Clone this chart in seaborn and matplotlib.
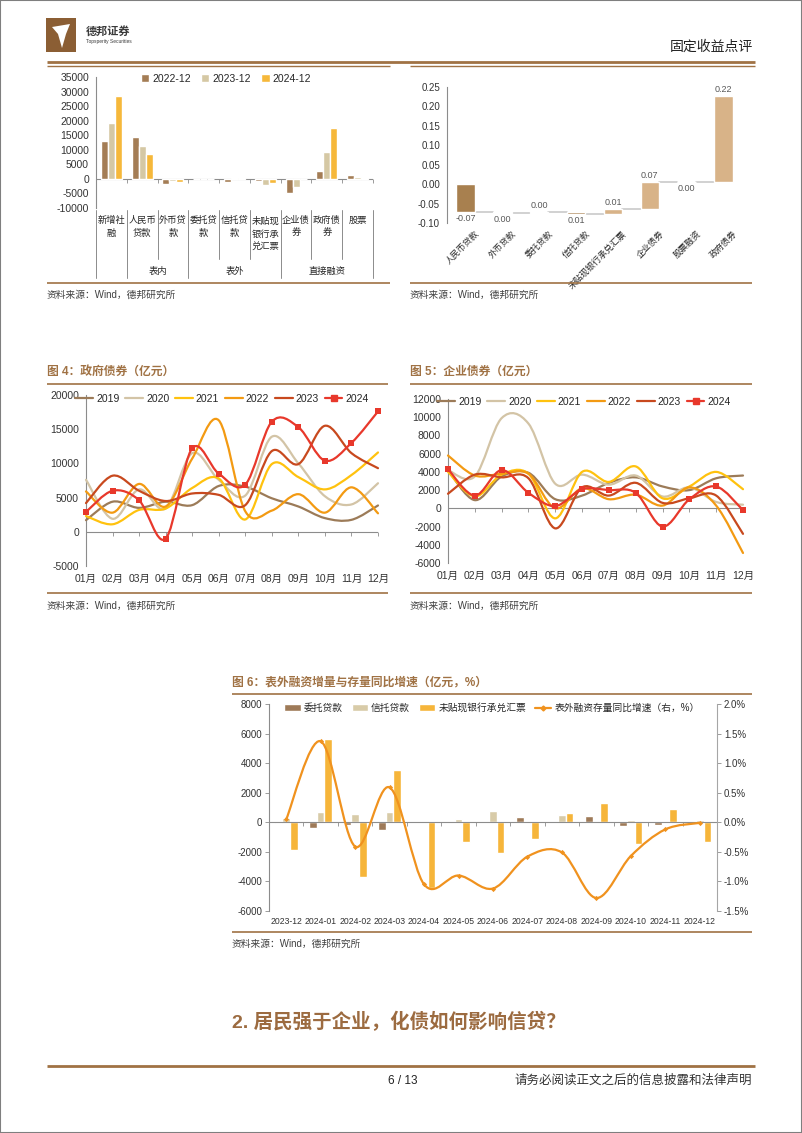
import numpy as np
import pandas as pd
import matplotlib.pyplot as plt
import seaborn as sns
from matplotlib.path import Path
from matplotlib.patches import PathPatch, Rectangle, Polygon
from matplotlib.lines import Line2D
import matplotlib.transforms as mtransforms

# ---------------- data ----------------
cats1 = ["新增社融", "人民币贷款", "外币贷款", "委托贷款", "信托贷款",
         "未贴现银行承兑汇票", "企业债券", "政府债券", "股票"]
cat1_labels = ["新增社\n融", "人民币\n贷款", "外币贷\n款", "委托贷\n款", "信托贷\n款",
               "未贴现\n银行承\n兑汇票", "企业债\n券", "政府债\n券", "股票"]
periods1 = ["2022-12", "2023-12", "2024-12"]
flow_2022 = [13100, 14500, -1700, -200, -900, -700, -4900, 2800, 1500]
flow_2023 = [19300, 11200, -700, -100, 200, -2000, -2900, 9300, 500]
flow_2024 = [28500, 8500, -900, 0, 300, -1500, -200, 17600, 450]

cats2 = ["人民币贷款", "外币贷款", "委托贷款", "信托贷款", "未贴现银行承兑汇票",
         "企业债券", "股票融资", "政府债券"]
contrib = [-0.071, -0.002, 0.001, -0.005, 0.014, 0.069, -0.001, 0.221]

months = ["01月", "02月", "03月", "04月", "05月", "06月",
          "07月", "08月", "09月", "10月", "11月", "12月"]
years = ["2019", "2020", "2021", "2022", "2023", "2024"]

gov_2019 = [1700, 4400, 3500, 4400, 3900, 6700, 6600, 4900, 3700, 2000, 1750, 3850]
gov_2020 = [7600, 1900, 6200, 3400, 11500, 7600, 5300, 13900, 10000, 5200, 4000, 7100]
gov_2021 = [2300, 1100, 3200, 3400, 6400, 7800, 1800, 9900, 8000, 6200, 8300, 11600]
gov_2022 = [5900, 2800, 7000, 3700, 10700, 16300, 3000, 3100, 5500, 2800, 6500, 2700]
gov_2023 = [4200, 8200, 6000, 4500, 5600, 5400, 3900, 11800, 9900, 15500, 11500, 9300]
gov_2024 = [2900, 6000, 4600, -1000, 12200, 8500, 6900, 16100, 15300, 10400, 13000, 17600]

corp_2019 = [4200, 900, 3500, 3900, 1000, 1400, 2800, 3400, 2400, 2000, 3300, 3600]
corp_2020 = [4200, 3500, 9900, 9300, 2700, 3700, 2600, 3600, 1300, 2300, 700, 400]
corp_2021 = [4000, 1300, 3700, 3800, -1100, 4000, 2900, 4600, 1100, 2400, 4000, 2100]
corp_2022 = [5800, 3600, 3800, 3800, 0, 2200, 1000, 1500, 300, 2300, 300, -4900]
corp_2023 = [1600, 3700, 3400, 3300, -2200, 2300, 1400, 2800, 600, 1100, 1400, -2800]
corp_2024 = [4300, 1400, 4200, 1700, 250, 2100, 2000, 1700, -2000, 1000, 2400, -200]

months6 = ["2023-12", "2024-01", "2024-02", "2024-03", "2024-04", "2024-05", "2024-06",
           "2024-07", "2024-08", "2024-09", "2024-10", "2024-11", "2024-12"]
series6 = ["委托贷款", "信托贷款", "未贴现银行承兑汇票"]
entrusted6 = [-50, -400, -200, -500, 50, 0, 30, 350, 30, 400, -250, -200, -30]
trust6 = [300, 700, 560, 680, 100, 230, 780, 0, 470, 0, 150, 0, 130]
undisc6 = [-1900, 5600, -3700, 3550, -4450, -1350, -2100, -1150, 650, 1300, -1450, 900, -1350]
growth6 = [0.05, 1.37, -0.41, 0.59, -1.05, -0.90, -1.12, -0.58, -0.51, -1.28, -0.57, -0.12, -0.01]

# ---------------- style ----------------
sns.set_style("white")
plt.rcParams["font.family"] = ["Liberation Sans", "Noto Sans CJK SC"]
plt.rcParams["axes.unicode_minus"] = False

BROWN = "#A07244"
AXIS = "#8C8C8C"
TXT = "#333333"
year_colors = ["#9C7B58", "#D3C4A6", "#FFC20E", "#F39A12", "#C8491E", "#E8382B"]

W, H = 802, 1133
fig = plt.figure(figsize=(W / 100, H / 100), dpi=100)


def rect(x0, y0, x1, y1):
    return [x0 / W, 1 - y1 / H, (x1 - x0) / W, (y1 - y0) / H]


def fy(y):
    return 1 - y / H


def ftext(x, y, s, **kw):
    fig.text(x / W, fy(y), s, **kw)


def hline(y, x0, x1, lw=1.0, color=BROWN):
    fig.add_artist(Line2D([x0 / W, x1 / W], [fy(y), fy(y)], transform=fig.transFigure,
                          lw=lw, color=color, solid_capstyle="butt"))


def smooth(ax, x, y, color, lw=1.5):
    # excel style smoothed line: cubic bezier through the data points
    pts = np.column_stack([x, y]).astype(float)
    n = len(pts)
    verts, codes = [pts[0]], [Path.MOVETO]
    for i in range(n - 1):
        p0 = pts[i - 1] if i > 0 else pts[i]
        p3 = pts[i + 2] if i + 2 < n else pts[i + 1]
        verts += [pts[i] + (pts[i + 1] - p0) / 6, pts[i + 1] - (p3 - pts[i]) / 6, pts[i + 1]]
        codes += [Path.CURVE4] * 3
    ax.add_patch(PathPatch(Path(verts, codes), fill=False, ec=color, lw=lw,
                           capstyle="round", joinstyle="round", clip_on=False, zorder=3))


def style_left(ax, size=7.5):
    sns.despine(ax=ax, top=True, right=True, bottom=True)
    ax.spines["left"].set_color(AXIS)
    ax.spines["left"].set_linewidth(0.8)
    ax.tick_params(axis="y", length=3, width=0.6, color=AXIS, labelsize=size,
                   labelcolor=TXT, pad=2)


# ---------------- page frame / header ----------------
fig.add_artist(Rectangle((0, 0), 1, 1, transform=fig.transFigure, fill=False,
                         ec="#7F7F7F", lw=1.5))
fig.add_artist(Rectangle((46 / W, fy(52)), 30 / W, 34 / H, transform=fig.transFigure,
                         fc="#8B5E34", ec="none"))
fig.add_artist(Polygon([(52 / W, fy(27)), (70 / W, fy(24)), (66 / W, fy(34)),
                        (62 / W, fy(48)), (58 / W, fy(34))], closed=True,
                       transform=fig.transFigure, fc="white", ec="none"))
ftext(86, 31, "德邦证券", fontsize=8, fontweight="bold", color="#3A3A3A", va="center")
ftext(86, 42, "Topsperity Securities", fontsize=3.5, color="#3A3A3A", va="center")
ftext(753, 47, "固定收益点评", fontsize=10, color="#222222", ha="right", va="center")
hline(62, 47, 755, lw=2.0)
hline(65.5, 47, 390, lw=1.0)
hline(65.5, 410, 755, lw=1.0)

# ---------------- chart 1: grouped bars ----------------
ax1 = fig.add_axes(rect(96, 77, 373, 208))
df1 = pd.concat([pd.DataFrame({"cat": cats1, "period": p, "value": v})
                 for p, v in zip(periods1, [flow_2022, flow_2023, flow_2024])])
sns.barplot(data=df1, x="cat", y="value", hue="period", order=cats1, hue_order=periods1,
            palette=["#A47D55", "#D5C8A4", "#F6B83A"], width=0.68, gap=0,
            saturation=1, errorbar=None, ax=ax1)
ax1.set_xlim(-0.5, 8.5)
ax1.set_ylim(-10000, 35000)
ax1.set_yticks(np.arange(-10000, 35001, 5000))
ax1.set_xticks([])
ax1.set_xlabel("")
ax1.set_ylabel("")
style_left(ax1, 7.5)
ax1.axhline(0, color=AXIS, lw=0.8, zorder=0)
ax1.plot(np.arange(-0.5, 9), np.zeros(10), ls="none", marker=3, ms=3, mew=0.6,
         color=AXIS, clip_on=False)
h, l = ax1.get_legend_handles_labels()
ax1.legend(h, l, loc="center", bbox_to_anchor=(226 / W, fy(79)),
           bbox_transform=fig.transFigure, ncol=3, frameon=False, fontsize=7.5,
           handlelength=0.8, handleheight=0.8, handletextpad=0.3, columnspacing=1.0,
           borderpad=0)
bt1 = mtransforms.blended_transform_factory(ax1.transData, fig.transFigure)
for i, lab in enumerate(cat1_labels):
    ax1.text(i, fy(216), lab, transform=bt1, ha="center", va="top", fontsize=6.7,
             linespacing=1.6, color="#262626")
for b in np.arange(-0.5, 9):
    long = b in (-0.5, 0.5, 2.5, 5.5, 8.5)
    ax1.plot([b, b], [fy(210), fy(278 if long else 259)], transform=bt1, color=AXIS,
             lw=0.7, clip_on=False)
for xc, g in zip([1.5, 4, 7], ["表内", "表外", "直接融资"]):
    ax1.text(xc, fy(271), g, transform=bt1, ha="center", va="center", fontsize=6.7,
             color="#262626")
hline(283, 47, 390, lw=1.2)
ftext(47, 295, "资料来源：Wind，德邦研究所", fontsize=7, color="#404040", va="center")

# ---------------- chart 2: waterfall ----------------
ax2 = fig.add_axes(rect(447, 87, 742, 223))
x2 = np.arange(len(cats2))
vals2 = np.array(contrib)
ends2 = np.cumsum(vals2)
starts2 = ends2 - vals2
bar_cols = ["#C9C9C9" if abs(v) < 0.003 else ("#A8804F" if v < 0 else "#D8B388") for v in vals2]
ax2.bar(x2, vals2, bottom=starts2, width=0.5, color=bar_cols, zorder=2)
for i in range(len(x2) - 1):
    ax2.plot([i + 0.25, i + 0.75], [ends2[i], ends2[i]], color="#C9C9C9", lw=1.2, zorder=1)
for i, v in enumerate(vals2):
    lab = f"{abs(v):.2f}" if round(v, 2) == 0 else f"{v:.2f}"
    if v >= 0:
        ax2.annotate(lab, (i, ends2[i]), xytext=(0, 1.5), textcoords="offset points",
                     ha="center", va="bottom", fontsize=6.5, color="#595959")
    else:
        ax2.annotate(lab, (i, ends2[i]), xytext=(0, -1.5), textcoords="offset points",
                     ha="center", va="top", fontsize=6.5, color="#595959")
ax2.set_xlim(-0.5, 7.5)
ax2.set_ylim(-0.10, 0.25)
ax2.set_yticks(np.round(np.arange(-0.10, 0.2501, 0.05), 2))
ax2.set_yticklabels([f"{t:.2f}" for t in np.arange(-0.10, 0.2501, 0.05)])
ax2.set_xticks([])
style_left(ax2, 7)
bt2 = mtransforms.blended_transform_factory(ax2.transData, fig.transFigure)
for i, c in enumerate(cats2):
    ax2.text(i + 0.25, fy(229), c, transform=bt2, rotation=45, rotation_mode="anchor",
             ha="right", va="top", fontsize=6.2, color="#262626")
hline(283, 410, 752, lw=1.2)
ftext(410, 295, "资料来源：Wind，德邦研究所", fontsize=7, color="#404040", va="center")


# ---------------- charts 4 and 5: smoothed monthly lines ----------------
def month_chart(box, ylim, step, data, title_xy, title, leg_x, leg_y, src_x0, src_x1):
    ax = fig.add_axes(rect(*box))
    xs = np.arange(12)
    for yr, vals, col in zip(years, data, year_colors):
        smooth(ax, xs, vals, col, lw=1.6)
    sns.scatterplot(x=xs, y=data[-1], marker="s", s=20, color=year_colors[-1],
                    linewidth=0, ax=ax, zorder=4, clip_on=False)
    ax.set_xlim(0, 11)
    ax.set_ylim(*ylim)
    ax.set_yticks(np.arange(ylim[0], ylim[1] + 1, step))
    style_left(ax, 7.5)
    ax.set_xticks(xs)
    ax.set_xticklabels(months)
    ax.tick_params(axis="x", length=0, pad=6, labelsize=7.5, labelcolor=TXT)
    ax.axhline(0, color=AXIS, lw=0.8, zorder=1)
    ax.plot(xs, np.zeros(12), ls="none", marker=3, ms=3, mew=0.6, color=AXIS, clip_on=False)
    handles = [Line2D([], [], color=c, lw=1.6) for c in year_colors[:-1]]
    handles.append(Line2D([], [], color=year_colors[-1], lw=1.6, marker="s", ms=4.3))
    ax.legend(handles, years, loc="center", bbox_to_anchor=(leg_x / W, fy(leg_y)),
              bbox_transform=fig.transFigure, ncol=6, frameon=False, fontsize=7.5,
              handlelength=1.7, handletextpad=0.3, columnspacing=0.55, borderpad=0)
    ftext(title_xy[0], title_xy[1], title, fontsize=8.5, fontweight="bold", color=BROWN,
          va="center")
    hline(384, src_x0, src_x1, lw=1.2)
    hline(593, src_x0, src_x1, lw=1.2)
    ftext(src_x0, 606, "资料来源：Wind，德邦研究所", fontsize=7, color="#404040", va="center")
    return ax


month_chart((86, 395, 378, 566), (-5000, 20000), 5000,
            [gov_2019, gov_2020, gov_2021, gov_2022, gov_2023, gov_2024],
            (47, 372), "图 4：政府债券（亿元）", 222, 399, 47, 388)
month_chart((448, 399, 743, 563), (-6000, 12000), 2000,
            [corp_2019, corp_2020, corp_2021, corp_2022, corp_2023, corp_2024],
            (410, 372), "图 5：企业债券（亿元）", 584, 402, 410, 752)

# ---------------- chart 6: off-balance financing ----------------
ftext(232, 683, "图 6：表外融资增量与存量同比增速（亿元，%）", fontsize=8.5,
      fontweight="bold", color=BROWN, va="center")
hline(694, 232, 752, lw=1.2)
ax6 = fig.add_axes(rect(269, 704, 717, 911))
df6 = pd.concat([pd.DataFrame({"month": months6, "series": s, "value": v})
                 for s, v in zip(series6, [entrusted6, trust6, undisc6])])
sns.barplot(data=df6, x="month", y="value", hue="series", order=months6, hue_order=series6,
            palette=["#9E7A58", "#D8CBA8", "#F6B53A"], width=0.66, gap=0, saturation=1,
            errorbar=None, ax=ax6)
ax6.set_xlim(-0.5, 12.5)
ax6.set_ylim(-6000, 8000)
ax6.set_yticks(np.arange(-6000, 8001, 2000))
ax6.set_xlabel("")
ax6.set_ylabel("")
style_left(ax6, 7)
ax6.tick_params(axis="x", length=0, pad=4, labelsize=6.2, labelcolor=TXT)
ax6.axhline(0, color=AXIS, lw=0.8, zorder=1)
ax6.plot(np.arange(-0.5, 13), np.zeros(14), ls="none", marker=3, ms=3, mew=0.6,
         color=AXIS, clip_on=False)
bar_h, bar_l = ax6.get_legend_handles_labels()
ax6.get_legend().remove()

ax6r = ax6.twinx()
smooth(ax6r, np.arange(13), growth6, "#F0921E", lw=1.6)
sns.scatterplot(x=np.arange(13), y=growth6, marker="D", s=7, color="#F0921E", linewidth=0,
                ax=ax6r, zorder=4, clip_on=False)
ax6r.set_ylim(-1.5, 2.0)
ax6r.set_yticks(np.arange(-1.5, 2.01, 0.5))
ax6r.set_yticklabels([f"{t:.1f}%" for t in np.arange(-1.5, 2.01, 0.5)])
for side in ["top", "bottom", "left"]:
    ax6r.spines[side].set_visible(False)
ax6r.spines["right"].set_color("#A6A6A6")
ax6r.spines["right"].set_linewidth(0.8)
ax6r.tick_params(axis="y", length=3, width=0.6, color=AXIS, labelsize=7, labelcolor=TXT, pad=2)
line_h = Line2D([], [], color="#F0921E", lw=1.6, marker="D", ms=2.5)
ax6r.legend(bar_h + [line_h], series6 + ["表外融资存量同比增速（右，%）"], loc="center",
            bbox_to_anchor=(492 / W, fy(708)), bbox_transform=fig.transFigure, ncol=4,
            frameon=False, fontsize=7, handlelength=1.7, handleheight=0.6,
            handletextpad=0.3, columnspacing=0.9, borderpad=0)
hline(932, 232, 752, lw=1.2)
ftext(232, 944, "资料来源：Wind，德邦研究所", fontsize=7, color="#404040", va="center")

# ---------------- section heading / footer ----------------
ftext(232, 1022, "2. 居民强于企业，化债如何影响信贷？", fontsize=14, fontweight="bold",
      color="#9C6B40", va="center")
hline(1066, 47, 755, lw=2.0)
ftext(403, 1081, "6 / 13", fontsize=8.5, color="#222222", ha="center", va="center")
ftext(752, 1081, "请务必阅读正文之后的信息披露和法律声明", fontsize=9, color="#333333",
      ha="right", va="center")

fig.savefig("out.png", dpi=100)
